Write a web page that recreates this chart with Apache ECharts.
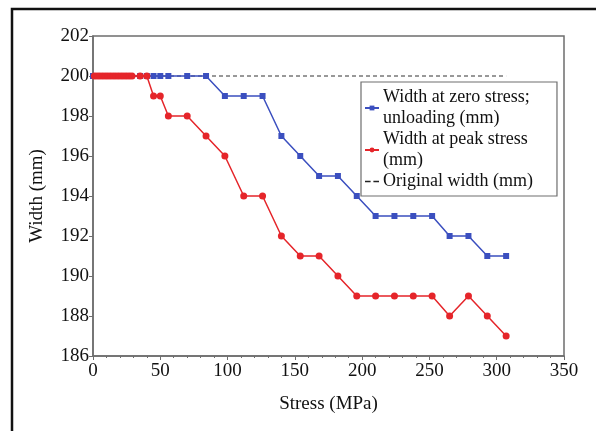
<!DOCTYPE html>
<html>
<head>
    <meta charset="utf-8">
    <title>Width vs stress</title>
    <script src="https://cdn.jsdelivr.net/npm/echarts@6/dist/echarts.min.js"></script>
    <style>
        html, body { margin: 0; padding: 0; background: #fff; }
    </style>
</head>
<body>
    <div id="main" style="width:596px;height:431px;"></div>
    <script type="text/javascript">
        // stress (MPa) and width (mm)
        var zeroStress = [0, 35, 40, 45, 50, 56, 70, 84, 98, 112, 126, 140, 154, 168, 182, 196, 210, 224, 238, 252, 265, 279, 293, 307];
        var zeroWidth  = [200, 200, 200, 200, 200, 200, 200, 200, 199, 199, 199, 197, 196, 195, 195, 194, 193, 193, 193, 193, 192, 192, 191, 191];

        var peakStress = [1, 3, 5, 7, 9, 11, 13, 15, 17, 19, 21, 23, 25, 27, 29, 35, 40, 45, 50, 56, 70, 84, 98, 112, 126, 140, 154, 168, 182, 196, 210, 224, 238, 252, 265, 279, 293, 307];
        var peakWidth  = [200, 200, 200, 200, 200, 200, 200, 200, 200, 200, 200, 200, 200, 200, 200, 200, 200, 199, 199, 198, 198, 197, 196, 194, 194, 192, 191, 191, 190, 189, 189, 189, 189, 189, 188, 189, 188, 187];

        var origStress = [0, 307];
        var origWidth  = [200, 200];

        var names = [
            "Width at zero stress;\nunloading (mm)",
            "Width at peak stress\n(mm)",
            "Original width (mm)"
        ];

        function pairs(xs, ys) {
            return xs.map(function (x, i) { return [x, ys[i]]; });
        }

        var font = "Liberation Serif";
        var axisGray = "#6e6e6e";

        var myChart = echarts.init(document.getElementById("main"));
        var option = {
            animation: false,
            textStyle: { fontFamily: font },
            graphic: [{
                type: "rect",
                shape: { x: 12, y: 9, width: 700, height: 600 },
                style: { fill: null, stroke: "#111", lineWidth: 2.5 }
            }],
            grid: {
                left: 93, right: 32, top: 36, bottom: 75,
                show: true,
                borderColor: axisGray,
                borderWidth: 1.5
            },
            legend: {
                orient: "vertical",
                left: 361,
                top: 82,
                padding: [5, 24, 4, 3],
                itemGap: 0,
                itemWidth: 14,
                itemHeight: 6,
                backgroundColor: "#fff",
                borderColor: axisGray,
                borderWidth: 1.2,
                textStyle: { fontFamily: font, fontSize: 18, color: "#111", lineHeight: 21, padding: [0, 0, 0, -1] },
                data: [
                    { name: names[0] },
                    { name: names[1] },
                    { name: names[2], icon: "path://M0,0 h4 v1 h-4 z M6,0 h4 v1 h-4 z", itemStyle: { color: "#222" } }
                ]
            },
            xAxis: {
                type: "value",
                min: 0,
                max: 350,
                interval: 50,
                name: "Stress (MPa)",
                nameLocation: "middle",
                nameGap: 39,
                nameTextStyle: { fontFamily: font, fontSize: 19, color: "#111" },
                axisLine: { lineStyle: { color: axisGray, width: 1.5 } },
                axisTick: { show: true, length: 4, lineStyle: { color: axisGray } },
                minorTick: { show: true, splitNumber: 5, length: 2, lineStyle: { color: axisGray } },
                axisLabel: { fontFamily: font, fontSize: 19, color: "#111", margin: 6 },
                splitLine: { show: false }
            },
            yAxis: {
                type: "value",
                min: 186,
                max: 202,
                interval: 2,
                name: "Width (mm)",
                nameLocation: "middle",
                nameGap: 46,
                nameTextStyle: { fontFamily: font, fontSize: 19, color: "#111" },
                axisLine: { show: true, lineStyle: { color: axisGray, width: 1.5 } },
                axisTick: { show: true, length: 4, lineStyle: { color: axisGray } },
                axisLabel: { fontFamily: font, fontSize: 19, color: "#111", margin: 4 },
                splitLine: { show: false }
            },
            series: [{
                name: names[2],
                type: "line",
                data: pairs(origStress, origWidth),
                showSymbol: false,
                symbol: "none",
                color: "#333",
                lineStyle: { color: "#333", width: 1, type: [4, 3] },
                z: 1
            }, {
                name: names[0],
                type: "line",
                data: pairs(zeroStress, zeroWidth),
                symbol: "rect",
                symbolSize: 6,
                color: "#3b4fbf",
                lineStyle: { width: 1.5 },
                z: 2
            }, {
                name: names[1],
                type: "line",
                data: pairs(peakStress, peakWidth),
                symbol: "circle",
                symbolSize: 7,
                color: "#e5252a",
                lineStyle: { width: 1.5 },
                z: 3
            }]
        };
        myChart.setOption(option);
    </script>
</body>
</html>
